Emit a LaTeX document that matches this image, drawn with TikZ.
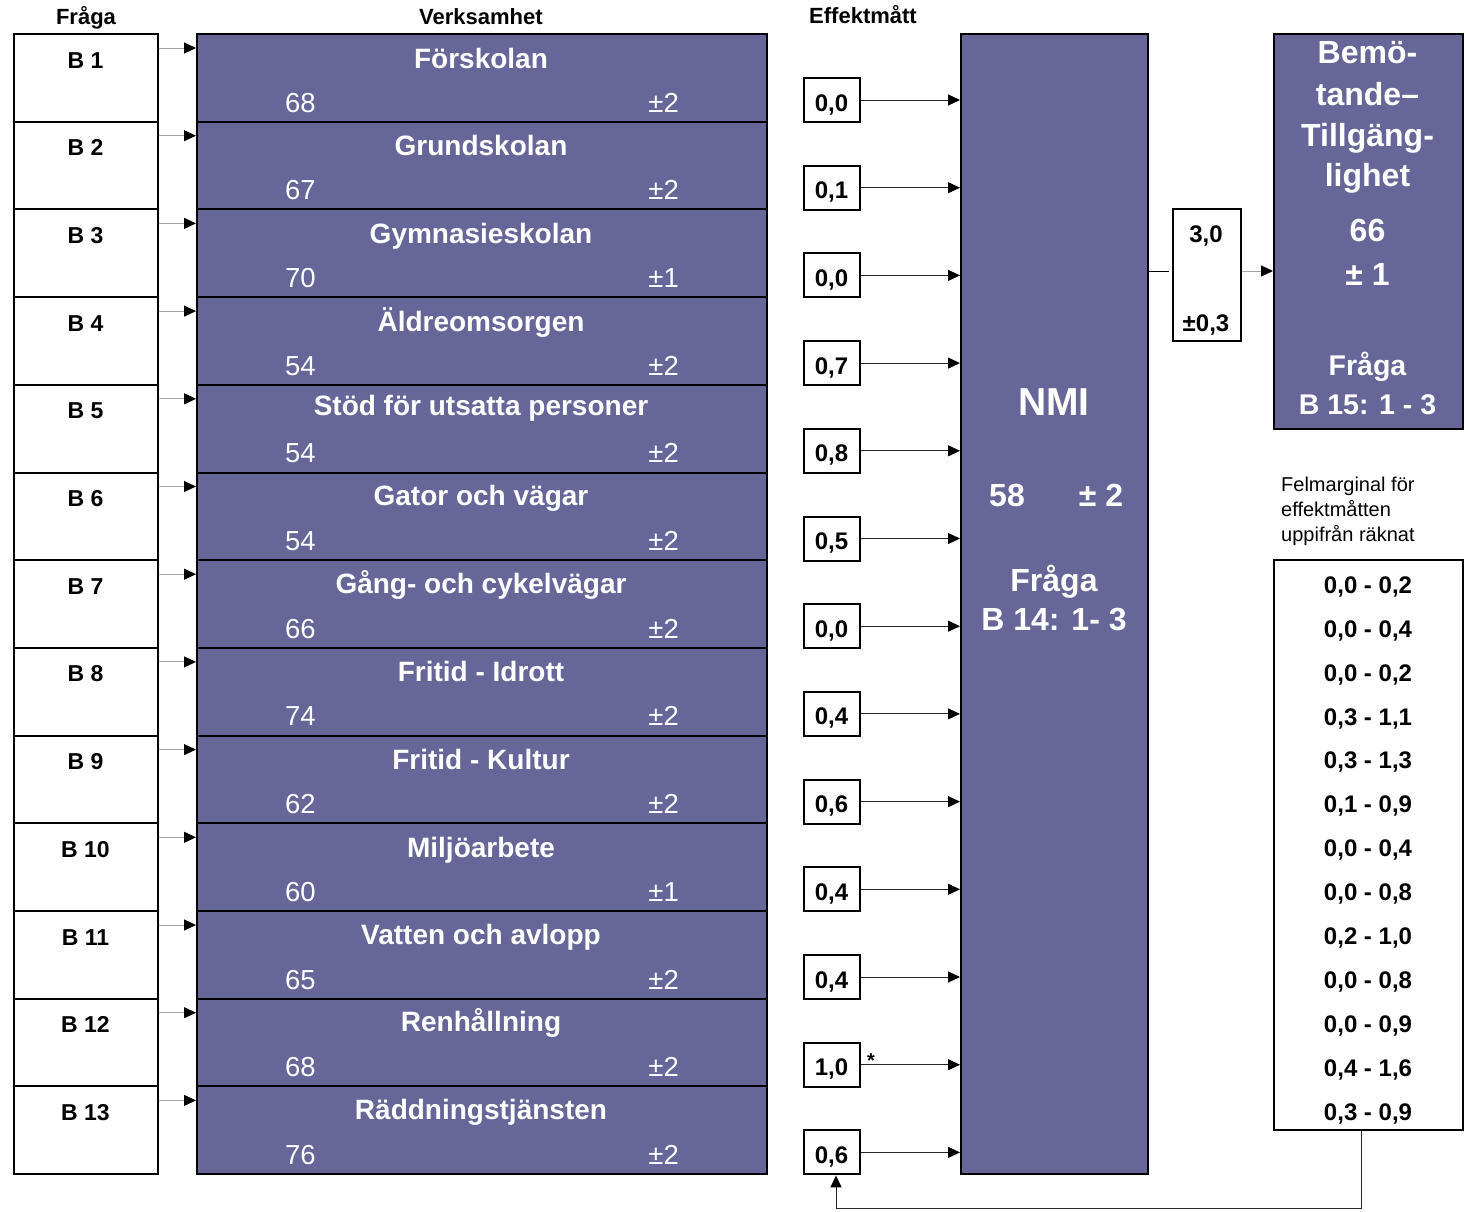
\documentclass[tikz,border=0pt]{standalone}
\usepackage{fontspec}
\setmainfont{Liberation Sans}
\usetikzlibrary{arrows.meta,calc}
\definecolor{nmi}{RGB}{102,102,153}
\begin{document}
\begin{tikzpicture}[x=1pt,y=-1pt,
  box/.style={draw=black,line width=2pt,inner sep=0pt,anchor=north west},
  pbox/.style={box,fill=nmi},
  txt/.style={inner sep=0pt,anchor=base},
  hdr/.style={txt,font=\fontsize{22}{24}\selectfont\bfseries},
  blab/.style={txt,font=\fontsize{23}{25}\selectfont\bfseries},
  vtit/.style={txt,text=white,font=\fontsize{28}{30}\selectfont\bfseries},
  vnum/.style={txt,text=white,font=\fontsize{27.5}{30}\selectfont},
  eff/.style={txt,font=\fontsize{24}{26}\selectfont\bfseries},
  big/.style={txt,text=white,font=\fontsize{32}{34}\selectfont\bfseries},
  mid/.style={txt,text=white,font=\fontsize{28.5}{30}\selectfont\bfseries},
  small/.style={txt,anchor=base west,font=\fontsize{20}{22}\selectfont},
  tip/.style={-{Triangle[length=12pt,width=11pt,color=black]}},
  garrow/.style={tip,draw=gray!70,line width=1pt},
  earrow/.style={tip,draw=black!85,line width=1pt}]
\useasboundingbox (0,0) rectangle (1468,1211);
% headers
\node[hdr] (hq) at (86,24) {Fråga};
\node[hdr] (hv) at (481,24) {Verksamhet};
\node[hdr] (he) at (863,23.5) {Effektmått};
% big NMI box
\node[pbox,minimum width=187pt,minimum height=1140pt] (nmi) at (960,33) {};
% rows
\foreach \tit/\num/\pmv/\eff/\off [count=\i from 0] in {
  Förskolan/68/2/{0,0}/35,
  Grundskolan/67/2/{0,1}/35,
  Gymnasieskolan/70/1/{0,0}/35,
  Äldreomsorgen/54/2/{0,7}/35,
  Stöd för utsatta personer/54/2/{0,8}/31.5,
  Gator och vägar/54/2/{0,5}/34,
  Gång- och cykelvägar/66/2/{0,0}/34,
  Fritid - Idrott/74/2/{0,4}/35,
  Fritid - Kultur/62/2/{0,6}/35,
  Miljöarbete/60/1/{0,4}/35,
  Vatten och avlopp/65/2/{0,4}/34,
  Renhållning/68/2/{1,0}/34,
  Räddningstjänsten/76/2/{0,6}/34}
{
  \pgfmathsetmacro\T{33+87.7*\i}
  \pgfmathtruncatemacro\k{\i+1}
  \node[box,minimum width=144pt,minimum height=87.7pt] (q\i) at (13,\T) {};
  \node[blab] (qt\i) at (85.5,\T+35) {B \k};
  \node[pbox,minimum width=570pt,minimum height=87.7pt] (v\i) at (196,\T) {};
  \node[vtit] (vt\i) at (481,\T+\off) {\tit};
  \node[vnum,anchor=base west] (vn\i) at (285,\T+79) {\num};
  \node[vnum,anchor=base east] (vp\i) at (679,\T+79) {±\pmv};
  \draw[garrow] ($(q\i.north east)+(0,15)$) -- ($(v\i.north west)+(0,15)$);
  \node[box,fill=white,minimum width=56pt,minimum height=44pt] (e\i) at (803,\T+44) {};
  \node[eff] (et\i) at (831.5,\T+78) {\eff};
  \draw[earrow] (e\i.east) -- (e\i.east -| nmi.west);
}
\node[txt,font=\fontsize{20}{22}\selectfont\bfseries] (star) at (871,1067) {*};
% NMI texts
\node[txt,text=white,font=\fontsize{39}{41}\selectfont\bfseries] (nmit) at (1054,415) {NMI};
\node[big] (n58) at (1007,506) {58};
\node[big] (npm) at (1101,506) {± 2};
\node[big] (nfr) at (1054,591.5) {Fråga};
\node[big] (nb14) at (1054,630) {B 14: 1- 3};
% 3,0 box
\node[box,fill=white,minimum width=68pt,minimum height=132pt] (c30) at (1172,208) {};
\node[eff] (c30a) at (1206,242.5) {3,0};
\node[eff] (c30b) at (1206,331) {±0,3};
\coordinate (c30in) at ($(c30.west)+(-3,-4)$);
\draw[line width=1pt] (c30in -| nmi.east) -- (c30in);
% Bemötande box
\node[pbox,minimum width=189pt,minimum height=395pt] (bem) at (1273,33) {};
\coordinate (c30out) at ($(c30.east)+(0,-4)$);
\draw[garrow] (c30out) -- (c30out -| bem.west);
\foreach \s/\y [count=\j] in {Bemö-/63.3, tande–/105, Tillgäng-/146.7, lighet/186.7, 66/241.7, ± 1/285}
  \node[big] (bt\j) at (1367.5,\y) {\s};
\node[mid] (bt7) at (1367.5,375) {Fråga};
\node[mid] (bt8) at (1367.5,414.3) {B 15: 1 - 3};
% Felmarginal
\node[small] (f1) at (1281,491.5) {Felmarginal för};
\node[small] (f2) at (1281,516.5) {effektmåtten};
\node[small] (f3) at (1281,541.5) {uppifrån räknat};
\node[box,fill=white,minimum width=189pt,minimum height=570pt] (fel) at (1273,559) {};
\foreach \r [count=\j from 0] in {{0,0 - 0,2},{0,0 - 0,4},{0,0 - 0,2},{0,3 - 1,1},{0,3 - 1,3},{0,1 - 0,9},{0,0 - 0,4},{0,0 - 0,8},{0,2 - 1,0},{0,0 - 0,8},{0,0 - 0,9},{0,4 - 1,6},{0,3 - 0,9}}
  \node[eff] (fr\j) at (1368,593.3+43.9*\j) {\r};
% feedback connector
\coordinate (fb) at (1361,1208);
\draw[earrow] (fel.south -| fb) -- (fb) -- ($(fb -| e12.south)+(4,0)$) -- ($(e12.south)+(4,0)$);
\end{tikzpicture}
\end{document}
